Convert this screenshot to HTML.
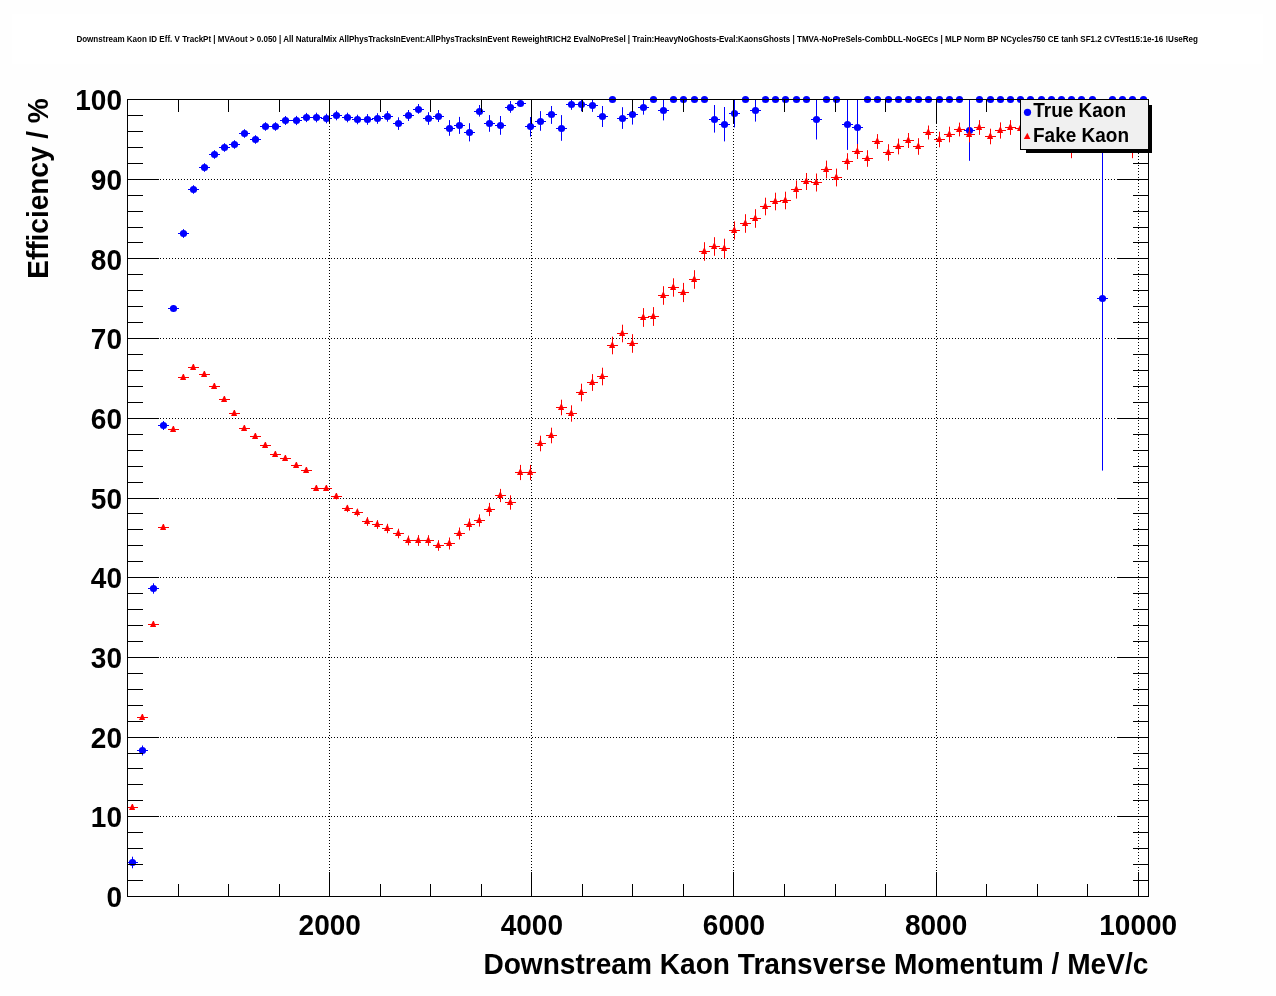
<!DOCTYPE html>
<html><head><meta charset="utf-8"><title>Downstream Kaon ID Eff. V TrackPt</title>
<style>html,body{margin:0;padding:0;background:#fefefe;}svg{display:block;will-change:transform;}text{font-family:"Liberation Sans",Arial,Helvetica,sans-serif;font-weight:bold;fill:#000;}</style></head><body>
<svg width="1276" height="996" viewBox="0 0 1276 996">
<rect x="0" y="0" width="1276" height="996" fill="#fefefe"/>
<rect x="12" y="14" width="1251" height="50" fill="#ffffff"/>
<text x="637.2" y="41.9" font-size="8.6" text-anchor="middle" textLength="1121.6" lengthAdjust="spacingAndGlyphs">Downstream Kaon ID Eff. V TrackPt | MVAout &gt; 0.050 | All NaturalMix AllPhysTracksInEvent:AllPhysTracksInEvent ReweightRICH2 EvalNoPreSel | Train:HeavyNoGhosts-Eval:KaonsGhosts | TMVA-NoPreSels-CombDLL-NoGECs | MLP Norm BP NCycles750 CE tanh SF1.2 CVTest15:1e-16 !UseReg</text>
<rect x="127" y="99" width="1023" height="799" fill="#ffffff"/>
<path d="M127 816.5H1148.5M127 737.5H1148.5M127 657.5H1148.5M127 577.5H1148.5M127 498.5H1148.5M127 418.5H1148.5M127 338.5H1148.5M127 258.5H1148.5M127 179.5H1148.5M329.5 99V896.5M531.5 99V896.5M733.5 99V896.5M936.5 99V896.5M1138.5 99V896.5" stroke="#000" stroke-width="1" stroke-dasharray="1 2" fill="none"/>
<g id="blue"><path d="M127 862.5H138M132.5 856.7V868.3M137 750.5H148M142.5 745.5V755.5M148 588.5H159M153.5 583.3V593.7M158 425.5H169M163.5 421V430M168 308.5H179M173.5 305V312M178 233.5H189M183.5 229.1V237.9M188 189.5H199M193.5 185.2V193.8M199 167.5H210M204.5 163.2V171.8M209 154.5H220M214.5 150.2V158.8M219 147.5H230M224.5 143.2V151.8M229 144.5H240M234.5 140.2V148.8M239 133.5H250M244.5 129.2V137.8M250 139.5H261M255.5 135.2V143.8M260 126.5H271M265.5 122.2V130.8M270 126.5H281M275.5 122.2V130.8M280 120.5H291M285.5 116V125M291 120.5H302M296.5 115.9V125.1M301 117.5H312M306.5 112.9V122.1M311 117.5H322M316.5 112.7V122.3M321 118.5H332M326.5 113.7V123.3M331 115.5H342M336.5 110.7V120.3M342 117.5H353M347.5 112.7V122.3M352 119.5H363M357.5 114.7V124.3M362 119.5H373M367.5 114.1V124.8M372 118.5H383M377.5 113.2V123.8M382 116.5H393M387.5 111.1V121.7M393 123.5H404M398.5 117.3V129.9M403 115.5H414M408.5 110V121M413 109.5H424M418.5 104V113.8M423 118.5H434M428.5 112.2V124.8M433 116.5H444M438.5 110V122M444 128.5H455M449.5 120.1V135.8M454 125.5H465M459.5 116.9V133.9M464 132.5H475M469.5 123.2V141.4M474 111.5H485M479.5 105V116.6M484 123.5H495M489.5 115.1V131.8M495 125.5H506M500.5 116V134.8M505 107.5H516M510.5 101V112.8M515 103.5H526M520.5 99.5V106.3M525 126.5H536M530.5 117V136.6M535 121.5H546M540.5 111.1V130.8M546 114.5H557M551.5 106V123.9M556 128.5H567M561.5 115.1V140.8M566 104.5H577M571.5 99.5V109.8M576 104.5H587M581.5 99.5V111.3M587 105.5H598M592.5 99.5V111.9M597 116.5H608M602.5 106V127M607 99.5H618M617 118.5H628M622.5 107.2V128.9M627 114.5H638M632.5 99.5V124.6M638 107.5H649M643.5 99.5V114.7M648 99.5H659M658 110.5H669M663.5 99.5V120.4M668 99.5H679M678 99.5H689M689 99.5H700M699 99.5H710M709 119.5H720M714.5 105V132.6M719 124.5H730M724.5 107V141.4M729 113.5H740M734.5 99.5V127.4M740 99.5H751M750 110.5H761M755.5 99.5V121.6M760 99.5H771M770 99.5H781M780 99.5H791M791 99.5H802M801 99.5H812M811 119.5H822M816.5 99.5V139.5M821 99.5H832M831 99.5H842M842 124.5H853M847.5 99.5V149.9M852 127.5H863M857.5 99.5V152M862 99.5H873M872 99.5H883M883 99.5H894M893 99.5H904M903 99.5H914M913 99.5H924M923 99.5H934M934 99.5H945M944 99.5H955M954 99.5H965M964 130.5H975M969.5 99.5V160.8M974 99.5H985M985 99.5H996M995 99.5H1006M1005 99.5H1016M1015 99.5H1026M1025 99.5H1036M1036 99.5H1047M1046 99.5H1057M1056 99.5H1067M1066 99.5H1077M1076 99.5H1087M1087 99.5H1098M1097 298.5H1108M1102.5 99.5V470.6M1107 99.5H1118M1117 99.5H1128M1127 99.5H1138M1138 99.5H1149" stroke="#0000ff" stroke-width="1" fill="none"/>
<g fill="#0000ff"><circle cx="132.5" cy="862.5" r="3.6"/><circle cx="142.5" cy="750.5" r="3.6"/><circle cx="153.5" cy="588.5" r="3.6"/><circle cx="163.5" cy="425.5" r="3.6"/><circle cx="173.5" cy="308.5" r="3.6"/><circle cx="183.5" cy="233.5" r="3.6"/><circle cx="193.5" cy="189.5" r="3.6"/><circle cx="204.5" cy="167.5" r="3.6"/><circle cx="214.5" cy="154.5" r="3.6"/><circle cx="224.5" cy="147.5" r="3.6"/><circle cx="234.5" cy="144.5" r="3.6"/><circle cx="244.5" cy="133.5" r="3.6"/><circle cx="255.5" cy="139.5" r="3.6"/><circle cx="265.5" cy="126.5" r="3.6"/><circle cx="275.5" cy="126.5" r="3.6"/><circle cx="285.5" cy="120.5" r="3.6"/><circle cx="296.5" cy="120.5" r="3.6"/><circle cx="306.5" cy="117.5" r="3.6"/><circle cx="316.5" cy="117.5" r="3.6"/><circle cx="326.5" cy="118.5" r="3.6"/><circle cx="336.5" cy="115.5" r="3.6"/><circle cx="347.5" cy="117.5" r="3.6"/><circle cx="357.5" cy="119.5" r="3.6"/><circle cx="367.5" cy="119.5" r="3.6"/><circle cx="377.5" cy="118.5" r="3.6"/><circle cx="387.5" cy="116.5" r="3.6"/><circle cx="398.5" cy="123.5" r="3.6"/><circle cx="408.5" cy="115.5" r="3.6"/><circle cx="418.5" cy="109.5" r="3.6"/><circle cx="428.5" cy="118.5" r="3.6"/><circle cx="438.5" cy="116.5" r="3.6"/><circle cx="449.5" cy="128.5" r="3.6"/><circle cx="459.5" cy="125.5" r="3.6"/><circle cx="469.5" cy="132.5" r="3.6"/><circle cx="479.5" cy="111.5" r="3.6"/><circle cx="489.5" cy="123.5" r="3.6"/><circle cx="500.5" cy="125.5" r="3.6"/><circle cx="510.5" cy="107.5" r="3.6"/><circle cx="520.5" cy="103.5" r="3.6"/><circle cx="530.5" cy="126.5" r="3.6"/><circle cx="540.5" cy="121.5" r="3.6"/><circle cx="551.5" cy="114.5" r="3.6"/><circle cx="561.5" cy="128.5" r="3.6"/><circle cx="571.5" cy="104.5" r="3.6"/><circle cx="581.5" cy="104.5" r="3.6"/><circle cx="592.5" cy="105.5" r="3.6"/><circle cx="602.5" cy="116.5" r="3.6"/><circle cx="612.5" cy="99.5" r="3.6"/><circle cx="622.5" cy="118.5" r="3.6"/><circle cx="632.5" cy="114.5" r="3.6"/><circle cx="643.5" cy="107.5" r="3.6"/><circle cx="653.5" cy="99.5" r="3.6"/><circle cx="663.5" cy="110.5" r="3.6"/><circle cx="673.5" cy="99.5" r="3.6"/><circle cx="683.5" cy="99.5" r="3.6"/><circle cx="694.5" cy="99.5" r="3.6"/><circle cx="704.5" cy="99.5" r="3.6"/><circle cx="714.5" cy="119.5" r="3.6"/><circle cx="724.5" cy="124.5" r="3.6"/><circle cx="734.5" cy="113.5" r="3.6"/><circle cx="745.5" cy="99.5" r="3.6"/><circle cx="755.5" cy="110.5" r="3.6"/><circle cx="765.5" cy="99.5" r="3.6"/><circle cx="775.5" cy="99.5" r="3.6"/><circle cx="785.5" cy="99.5" r="3.6"/><circle cx="796.5" cy="99.5" r="3.6"/><circle cx="806.5" cy="99.5" r="3.6"/><circle cx="816.5" cy="119.5" r="3.6"/><circle cx="826.5" cy="99.5" r="3.6"/><circle cx="836.5" cy="99.5" r="3.6"/><circle cx="847.5" cy="124.5" r="3.6"/><circle cx="857.5" cy="127.5" r="3.6"/><circle cx="867.5" cy="99.5" r="3.6"/><circle cx="877.5" cy="99.5" r="3.6"/><circle cx="888.5" cy="99.5" r="3.6"/><circle cx="898.5" cy="99.5" r="3.6"/><circle cx="908.5" cy="99.5" r="3.6"/><circle cx="918.5" cy="99.5" r="3.6"/><circle cx="928.5" cy="99.5" r="3.6"/><circle cx="939.5" cy="99.5" r="3.6"/><circle cx="949.5" cy="99.5" r="3.6"/><circle cx="959.5" cy="99.5" r="3.6"/><circle cx="969.5" cy="130.5" r="3.6"/><circle cx="979.5" cy="99.5" r="3.6"/><circle cx="990.5" cy="99.5" r="3.6"/><circle cx="1000.5" cy="99.5" r="3.6"/><circle cx="1010.5" cy="99.5" r="3.6"/><circle cx="1020.5" cy="99.5" r="3.6"/><circle cx="1030.5" cy="99.5" r="3.6"/><circle cx="1041.5" cy="99.5" r="3.6"/><circle cx="1051.5" cy="99.5" r="3.6"/><circle cx="1061.5" cy="99.5" r="3.6"/><circle cx="1071.5" cy="99.5" r="3.6"/><circle cx="1081.5" cy="99.5" r="3.6"/><circle cx="1092.5" cy="99.5" r="3.6"/><circle cx="1102.5" cy="298.5" r="3.6"/><circle cx="1112.5" cy="99.5" r="3.6"/><circle cx="1122.5" cy="99.5" r="3.6"/><circle cx="1132.5" cy="99.5" r="3.6"/><circle cx="1143.5" cy="99.5" r="3.6"/></g></g>
<g id="red"><path d="M127 807.5H138M132.5 805V810M137 717.5H148M142.5 715V720M148 624.5H159M153.5 622V627M158 527.5H169M163.5 525V530M168 429.5H179M173.5 427V432M178 377.5H189M183.5 375V380M188 367.5H199M193.5 365V370M199 374.5H210M204.5 372V377M209 386.5H220M214.5 384V389M219 399.5H230M224.5 397V402M229 413.5H240M234.5 411V416M239 428.5H250M244.5 426V431M250 436.5H261M255.5 434V439M260 445.5H271M265.5 443V448M270 454.5H281M275.5 452V457M280 458.5H291M285.5 456V461M291 465.5H302M296.5 463V468M301 470.5H312M306.5 468V473M311 488.5H322M316.5 486V491M321 488.5H332M326.5 486V491M331 496.5H342M336.5 493.5V499.5M342 508.5H353M347.5 504.9V512.1M352 512.5H363M357.5 508.6V516.4M362 521.5H373M367.5 517.1V525.9M372 524.5H383M377.5 520.1V528.9M382 528.5H393M387.5 523.8V533.2M393 533.5H404M398.5 528.7V538.3M403 540.5H414M408.5 535.6V545.4M413 540.5H424M418.5 535.1V545.9M423 540.5H434M428.5 535.2V545.8M433 545.5H444M438.5 540.2V550.8M444 543.5H455M449.5 537.5V549.5M454 533.5H465M459.5 527.5V539.5M464 524.5H475M469.5 518.5V530.5M474 520.5H485M479.5 514.4V526.6M484 509.5H495M489.5 502.9V516.1M495 495.5H506M500.5 488.9V502.1M505 502.5H516M510.5 495.3V509.7M515 472.5H526M520.5 464.9V480.1M525 472.5H536M530.5 464.9V480.1M535 443.5H546M540.5 435.7V451.3M546 435.5H557M551.5 427.7V443.3M556 407.5H567M561.5 399.7V415.3M566 413.5H577M571.5 405.3V421.7M576 392.5H587M581.5 383.7V401.3M587 382.5H598M592.5 374.1V390.9M597 376.5H608M602.5 367.7V385.3M607 345.5H618M612.5 336.7V354.3M617 333.5H628M622.5 324.7V342.3M627 343.5H638M632.5 334.2V352.8M638 317.5H649M643.5 308.1V326.9M648 316.5H659M653.5 307.1V325.9M658 295.5H669M663.5 286.2V304.8M668 287.5H679M673.5 278.3V296.7M678 292.5H689M683.5 282.9V302.1M689 279.5H700M694.5 270.2V288.8M699 251.5H710M704.5 242.2V260.8M709 246.5H720M714.5 237.2V255.8M719 248.5H730M724.5 238.7V258.3M729 230.5H740M734.5 221.4V239.6M740 223.5H751M745.5 214.2V232.8M750 218.5H761M755.5 209.2V227.8M760 206.5H771M765.5 197.7V215.3M770 201.5H781M775.5 192.7V210.3M780 200.5H791M785.5 191.7V209.3M791 189.5H802M796.5 180.4V198.6M801 181.5H812M806.5 173V190M811 182.5H822M816.5 173.5V191.5M821 169.5H832M826.5 160.6V178.4M831 177.5H842M836.5 168.6V186.4M842 161.5H853M847.5 153.2V169.8M852 151.5H863M857.5 144V159M862 158.5H873M867.5 150.2V166.8M872 141.5H883M877.5 134.1V148.9M883 152.5H894M888.5 144.2V160.8M893 146.5H904M898.5 138.6V154.4M903 140.5H914M908.5 133V148M913 146.5H924M918.5 138.2V154.8M923 132.5H934M928.5 125.5V139.5M934 139.5H945M939.5 131.7V147.3M944 134.5H955M949.5 126.7V142.3M954 129.5H965M959.5 122.6V136.4M964 134.5H975M969.5 126.7V142.3M974 127.5H985M979.5 120.1V134.9M985 136.5H996M990.5 128.7V144.3M995 130.5H1006M1000.5 122.4V138.6M1005 127.5H1016M1010.5 120.1V134.9M1015 128.5H1026M1020.5 121V136M1025 130.5H1036M1030.5 123V138M1036 128.5H1047M1041.5 121V136M1046 131.5H1057M1051.5 124V139M1056 129.5H1067M1061.5 122V137M1066 136.5H1077M1071.5 114.8V158.2M1076 130.5H1087M1081.5 123V138M1087 128.5H1098M1092.5 121V136M1097 131.5H1108M1102.5 124V139M1107 129.5H1118M1112.5 122V137M1117 128.5H1128M1122.5 121V136M1127 136.5H1138M1132.5 114.8V158.2M1138 130.5H1149M1143.5 123V138" stroke="#ff0000" stroke-width="1" fill="none"/>
<path d="M131.9 804H132.9L135.1 810H129ZM141.9 714H142.9L145.1 720H139ZM152.9 621H153.9L156.1 627H150ZM162.9 524H163.9L166.1 530H160ZM172.9 426H173.9L176.1 432H170ZM182.9 374H183.9L186.1 380H180ZM192.9 364H193.9L196.1 370H190ZM203.9 371H204.9L207.1 377H201ZM213.9 383H214.9L217.1 389H211ZM223.9 396H224.9L227.1 402H221ZM233.9 410H234.9L237.1 416H231ZM243.9 425H244.9L247.1 431H241ZM254.9 433H255.9L258.1 439H252ZM264.9 442H265.9L268.1 448H262ZM274.9 451H275.9L278.1 457H272ZM284.9 455H285.9L288.1 461H282ZM295.9 462H296.9L299.1 468H293ZM305.9 467H306.9L309.1 473H303ZM315.9 485H316.9L319.1 491H313ZM325.9 485H326.9L329.1 491H323ZM335.9 493H336.9L339.1 499H333ZM346.9 505H347.9L350.1 511H344ZM356.9 509H357.9L360.1 515H354ZM366.9 518H367.9L370.1 524H364ZM376.9 521H377.9L380.1 527H374ZM386.9 525H387.9L390.1 531H384ZM397.9 530H398.9L401.1 536H395ZM407.9 537H408.9L411.1 543H405ZM417.9 537H418.9L421.1 543H415ZM427.9 537H428.9L431.1 543H425ZM437.9 542H438.9L441.1 548H435ZM448.9 540H449.9L452.1 546H446ZM458.9 530H459.9L462.1 536H456ZM468.9 521H469.9L472.1 527H466ZM478.9 517H479.9L482.1 523H476ZM488.9 506H489.9L492.1 512H486ZM499.9 492H500.9L503.1 498H497ZM509.9 499H510.9L513.1 505H507ZM519.9 469H520.9L523.1 475H517ZM529.9 469H530.9L533.1 475H527ZM539.9 440H540.9L543.1 446H537ZM550.9 432H551.9L554.1 438H548ZM560.9 404H561.9L564.1 410H558ZM570.9 410H571.9L574.1 416H568ZM580.9 389H581.9L584.1 395H578ZM591.9 379H592.9L595.1 385H589ZM601.9 373H602.9L605.1 379H599ZM611.9 342H612.9L615.1 348H609ZM621.9 330H622.9L625.1 336H619ZM631.9 340H632.9L635.1 346H629ZM642.9 314H643.9L646.1 320H640ZM652.9 313H653.9L656.1 319H650ZM662.9 292H663.9L666.1 298H660ZM672.9 284H673.9L676.1 290H670ZM682.9 289H683.9L686.1 295H680ZM693.9 276H694.9L697.1 282H691ZM703.9 248H704.9L707.1 254H701ZM713.9 243H714.9L717.1 249H711ZM723.9 245H724.9L727.1 251H721ZM733.9 227H734.9L737.1 233H731ZM744.9 220H745.9L748.1 226H742ZM754.9 215H755.9L758.1 221H752ZM764.9 203H765.9L768.1 209H762ZM774.9 198H775.9L778.1 204H772ZM784.9 197H785.9L788.1 203H782ZM795.9 186H796.9L799.1 192H793ZM805.9 178H806.9L809.1 184H803ZM815.9 179H816.9L819.1 185H813ZM825.9 166H826.9L829.1 172H823ZM835.9 174H836.9L839.1 180H833ZM846.9 158H847.9L850.1 164H844ZM856.9 148H857.9L860.1 154H854ZM866.9 155H867.9L870.1 161H864ZM876.9 138H877.9L880.1 144H874ZM887.9 149H888.9L891.1 155H885ZM897.9 143H898.9L901.1 149H895ZM907.9 137H908.9L911.1 143H905ZM917.9 143H918.9L921.1 149H915ZM927.9 129H928.9L931.1 135H925ZM938.9 136H939.9L942.1 142H936ZM948.9 131H949.9L952.1 137H946ZM958.9 126H959.9L962.1 132H956ZM968.9 131H969.9L972.1 137H966ZM978.9 124H979.9L982.1 130H976ZM989.9 133H990.9L993.1 139H987ZM999.9 127H1000.9L1003.1 133H997ZM1009.9 124H1010.9L1013.1 130H1007ZM1019.9 125H1020.9L1023.1 131H1017ZM1029.9 127H1030.9L1033.1 133H1027ZM1040.9 125H1041.9L1044.1 131H1038ZM1050.9 128H1051.9L1054.1 134H1048ZM1060.9 126H1061.9L1064.1 132H1058ZM1070.9 133H1071.9L1074.1 139H1068ZM1080.9 127H1081.9L1084.1 133H1078ZM1091.9 125H1092.9L1095.1 131H1089ZM1101.9 128H1102.9L1105.1 134H1099ZM1111.9 126H1112.9L1115.1 132H1109ZM1121.9 125H1122.9L1125.1 131H1119ZM1131.9 133H1132.9L1135.1 139H1129ZM1142.9 127H1143.9L1146.1 133H1140Z" fill="#ff0000"/></g>
<path d="M127.5 896.5h31.5M1148.5 896.5h-31.5M127.5 880.5h15.5M1148.5 880.5h-15.5M127.5 864.5h15.5M1148.5 864.5h-15.5M127.5 848.5h15.5M1148.5 848.5h-15.5M127.5 832.5h15.5M1148.5 832.5h-15.5M127.5 816.5h31.5M1148.5 816.5h-31.5M127.5 800.5h15.5M1148.5 800.5h-15.5M127.5 784.5h15.5M1148.5 784.5h-15.5M127.5 768.5h15.5M1148.5 768.5h-15.5M127.5 753.5h15.5M1148.5 753.5h-15.5M127.5 737.5h31.5M1148.5 737.5h-31.5M127.5 721.5h15.5M1148.5 721.5h-15.5M127.5 705.5h15.5M1148.5 705.5h-15.5M127.5 689.5h15.5M1148.5 689.5h-15.5M127.5 673.5h15.5M1148.5 673.5h-15.5M127.5 657.5h31.5M1148.5 657.5h-31.5M127.5 641.5h15.5M1148.5 641.5h-15.5M127.5 625.5h15.5M1148.5 625.5h-15.5M127.5 609.5h15.5M1148.5 609.5h-15.5M127.5 593.5h15.5M1148.5 593.5h-15.5M127.5 577.5h31.5M1148.5 577.5h-31.5M127.5 561.5h15.5M1148.5 561.5h-15.5M127.5 545.5h15.5M1148.5 545.5h-15.5M127.5 529.5h15.5M1148.5 529.5h-15.5M127.5 513.5h15.5M1148.5 513.5h-15.5M127.5 498.5h31.5M1148.5 498.5h-31.5M127.5 482.5h15.5M1148.5 482.5h-15.5M127.5 466.5h15.5M1148.5 466.5h-15.5M127.5 450.5h15.5M1148.5 450.5h-15.5M127.5 434.5h15.5M1148.5 434.5h-15.5M127.5 418.5h31.5M1148.5 418.5h-31.5M127.5 402.5h15.5M1148.5 402.5h-15.5M127.5 386.5h15.5M1148.5 386.5h-15.5M127.5 370.5h15.5M1148.5 370.5h-15.5M127.5 354.5h15.5M1148.5 354.5h-15.5M127.5 338.5h31.5M1148.5 338.5h-31.5M127.5 322.5h15.5M1148.5 322.5h-15.5M127.5 306.5h15.5M1148.5 306.5h-15.5M127.5 290.5h15.5M1148.5 290.5h-15.5M127.5 274.5h15.5M1148.5 274.5h-15.5M127.5 258.5h31.5M1148.5 258.5h-31.5M127.5 242.5h15.5M1148.5 242.5h-15.5M127.5 227.5h15.5M1148.5 227.5h-15.5M127.5 211.5h15.5M1148.5 211.5h-15.5M127.5 195.5h15.5M1148.5 195.5h-15.5M127.5 179.5h31.5M1148.5 179.5h-31.5M127.5 163.5h15.5M1148.5 163.5h-15.5M127.5 147.5h15.5M1148.5 147.5h-15.5M127.5 131.5h15.5M1148.5 131.5h-15.5M127.5 115.5h15.5M1148.5 115.5h-15.5M127.5 99.5h31.5M1148.5 99.5h-31.5M127.5 896.5v-24.5M127.5 99.5v24.5M178.5 896.5v-12.5M178.5 99.5v12.5M228.5 896.5v-12.5M228.5 99.5v12.5M279.5 896.5v-12.5M279.5 99.5v12.5M329.5 896.5v-24.5M329.5 99.5v24.5M380.5 896.5v-12.5M380.5 99.5v12.5M430.5 896.5v-12.5M430.5 99.5v12.5M481.5 896.5v-12.5M481.5 99.5v12.5M531.5 896.5v-24.5M531.5 99.5v24.5M582.5 896.5v-12.5M582.5 99.5v12.5M632.5 896.5v-12.5M632.5 99.5v12.5M683.5 896.5v-12.5M683.5 99.5v12.5M733.5 896.5v-24.5M733.5 99.5v24.5M784.5 896.5v-12.5M784.5 99.5v12.5M835.5 896.5v-12.5M835.5 99.5v12.5M885.5 896.5v-12.5M885.5 99.5v12.5M936.5 896.5v-24.5M936.5 99.5v24.5M986.5 896.5v-12.5M986.5 99.5v12.5M1037.5 896.5v-12.5M1037.5 99.5v12.5M1087.5 896.5v-12.5M1087.5 99.5v12.5M1138.5 896.5v-24.5M1138.5 99.5v24.5" stroke="#000" stroke-width="1" fill="none"/>
<rect x="127.5" y="99.5" width="1021" height="797" fill="none" stroke="#000" stroke-width="1"/>
<text transform="translate(122 907.1) scale(1 1.068)" font-size="28" text-anchor="end">0</text>
<text transform="translate(122 827.4) scale(1 1.068)" font-size="28" text-anchor="end">10</text>
<text transform="translate(122 747.7) scale(1 1.068)" font-size="28" text-anchor="end">20</text>
<text transform="translate(122 668) scale(1 1.068)" font-size="28" text-anchor="end">30</text>
<text transform="translate(122 588.3) scale(1 1.068)" font-size="28" text-anchor="end">40</text>
<text transform="translate(122 508.6) scale(1 1.068)" font-size="28" text-anchor="end">50</text>
<text transform="translate(122 428.9) scale(1 1.068)" font-size="28" text-anchor="end">60</text>
<text transform="translate(122 349.2) scale(1 1.068)" font-size="28" text-anchor="end">70</text>
<text transform="translate(122 269.5) scale(1 1.068)" font-size="28" text-anchor="end">80</text>
<text transform="translate(122 189.8) scale(1 1.068)" font-size="28" text-anchor="end">90</text>
<text transform="translate(122 110.1) scale(1 1.068)" font-size="28" text-anchor="end">100</text>
<text transform="translate(329.72 935.3) scale(1 1.08)" font-size="28" text-anchor="middle">2000</text>
<text transform="translate(531.84 935.3) scale(1 1.08)" font-size="28" text-anchor="middle">4000</text>
<text transform="translate(733.96 935.3) scale(1 1.08)" font-size="28" text-anchor="middle">6000</text>
<text transform="translate(936.08 935.3) scale(1 1.08)" font-size="28" text-anchor="middle">8000</text>
<text transform="translate(1138.2 935.3) scale(1 1.08)" font-size="28" text-anchor="middle">10000</text>
<text transform="translate(1148.3 973.8) scale(1 1.05)" font-size="28.1" text-anchor="end">Downstream Kaon Transverse Momentum / MeV/c</text>
<text transform="translate(48.3 98.3) rotate(-90) scale(1 1.03)" font-size="28" text-anchor="end">Efficiency / %</text>
<rect x="1026" y="105" width="126" height="48" fill="#000"/>
<rect x="1020.5" y="99.5" width="128" height="50" fill="#f0f0f0" stroke="#000" stroke-width="1"/>
<circle cx="1027.5" cy="112.3" r="3.6" fill="#0000ff"/>
<path d="M1027.3 132.8L1023.8 139L1030.4 139Z" fill="#ff0000"/>
<text transform="translate(1033.2 116.9) scale(1 1.045)" font-size="19">True Kaon</text>
<text transform="translate(1033 141.6) scale(1 1.035)" font-size="19">Fake Kaon</text>
</svg></body></html>
